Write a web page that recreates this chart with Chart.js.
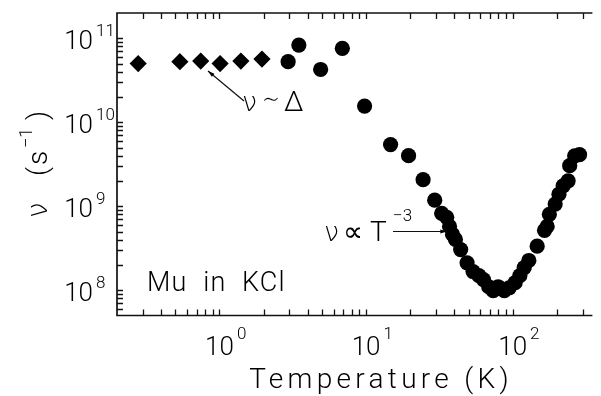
<!DOCTYPE html>
<html>
<head>
<meta charset="utf-8">
<script src="https://cdn.jsdelivr.net/npm/chart.js@4"></script>
<style>
  html, body { margin: 0; padding: 0; background: #fff; overflow: hidden; }
</style>
</head>
<body>
<canvas id="muChart" width="601" height="396"></canvas>
<script>
// low temperature points (diamonds)
const diamondT = [0.279, 0.537, 0.745, 1.01, 1.40, 1.95];
const diamondNu = [5.0e10, 5.26e10, 5.35e10, 5.0e10, 5.35e10, 5.65e10];

// higher temperature points (circles)
const circleT = [2.94, 3.48, 4.90, 6.89, 9.77, 14.7, 19.5, 24.5, 29.4, 32.8,
    35.5, 37.1, 38.9, 40.7, 44.2, 48.9, 53.7, 58.9, 63.2, 68.6,
    73.7, 79.6, 87.7, 94.7, 104, 112, 120, 129, 147, 165,
    172, 178, 195, 207, 221, 239, 245, 265, 286];
const circleNu = [5.26e10, 8.3e10, 4.25e10, 7.59e10, 1.56e10, 5.42e9, 4.0e9, 2.07e9, 1.18e9, 8.24e8,
    7.38e8, 5.75e8, 4.62e8, 4.03e8, 3.05e8, 2.12e8, 1.67e8, 1.49e8, 1.34e8, 1.10e8,
    9.86e7, 1.10e8, 9.86e7, 1.07e8, 1.23e8, 1.49e8, 1.86e8, 2.26e8, 3.35e8, 5.16e8,
    5.75e8, 8.02e8, 1.06e9, 1.39e9, 1.75e9, 2.01e9, 3.04e9, 3.97e9, 4.11e9];

// axis ranges and ticks
const xRange = [0.2, 350];
const yRange = [5e7, 2e11];
const xTicks = [0.3, 0.4, 0.5, 0.6, 0.7, 0.8, 0.9, 1, 2, 3, 4, 5, 6, 7, 8, 9,
    10, 20, 30, 40, 50, 60, 70, 80, 90, 100, 200, 300];
const yTicks = [6e7, 7e7, 8e7, 9e7, 1e8, 2e8, 3e8, 4e8, 5e8, 6e8, 7e8, 8e8, 9e8,
    1e9, 2e9, 3e9, 4e9, 5e9, 6e9, 7e9, 8e9, 9e9,
    1e10, 2e10, 3e10, 4e10, 5e10, 6e10, 7e10, 8e10, 9e10, 1e11];
const xLabelExps = [0, 1, 2];
const yLabelExps = [8, 9, 10, 11];

const FONT = "Roboto, 'DejaVu Sans', sans-serif";
const GREEK = "'DejaVu Sans', sans-serif";

function font(size, family) {
    return "300 " + size + "px " + (family || FONT);
}

function arrow(ctx, x1, y1, x2, y2) {
    const ang = Math.atan2(y2 - y1, x2 - x1);
    ctx.beginPath();
    ctx.moveTo(x1, y1);
    ctx.lineTo(x2, y2);
    ctx.stroke();
    ctx.beginPath();
    ctx.moveTo(x2, y2);
    ctx.lineTo(x2 - 7 * Math.cos(ang - 0.3), y2 - 7 * Math.sin(ang - 0.3));
    ctx.lineTo(x2 - 7 * Math.cos(ang + 0.3), y2 - 7 * Math.sin(ang + 0.3));
    ctx.closePath();
    ctx.fill();
}

const frame = {
    id: "frame",
    afterDraw(chart) {
        const ctx = chart.ctx;
        const a = chart.chartArea;
        const x = chart.scales.x;
        const y = chart.scales.y;
        ctx.save();
        ctx.strokeStyle = "#111";
        ctx.fillStyle = "#000";

        // box (no right side, it is off the picture)
        ctx.lineWidth = 1.7;
        ctx.beginPath();
        ctx.moveTo(a.right, a.top);
        ctx.lineTo(a.left, a.top);
        ctx.lineTo(a.left, a.bottom);
        ctx.lineTo(a.right, a.bottom);
        ctx.stroke();

        // inward ticks
        ctx.lineWidth = 1.3;
        ctx.beginPath();
        xTicks.forEach(v => {
            const px = Math.round(x.getPixelForValue(v)) + 0.5;
            ctx.moveTo(px, a.bottom);
            ctx.lineTo(px, a.bottom - 6);
            ctx.moveTo(px, a.top);
            ctx.lineTo(px, a.top + 6);
        });
        yTicks.forEach(v => {
            const py = Math.round(y.getPixelForValue(v)) + 0.5;
            ctx.moveTo(a.left, py);
            ctx.lineTo(a.left + 6, py);
        });
        ctx.stroke();

        // tick labels 10^n
        ctx.textBaseline = "alphabetic";
        xLabelExps.forEach(e => {
            const px = x.getPixelForValue(Math.pow(10, e));
            ctx.font = font(26);
            ctx.textAlign = "center";
            ctx.fillText("10", px, 355);
            const w = ctx.measureText("10").width;
            ctx.font = font(17);
            ctx.textAlign = "left";
            ctx.fillText(String(e), px + w / 2 + 3, 339);
        });
        yLabelExps.forEach(e => {
            const py = y.getPixelForValue(Math.pow(10, e));
            ctx.font = font(26);
            ctx.textAlign = "right";
            ctx.fillText("10", 93, py + 11);
            ctx.font = font(17);
            ctx.textAlign = "left";
            ctx.fillText(String(e), 96, py - 2);
        });

        // axis titles
        ctx.font = font(28);
        ctx.textAlign = "center";
        ctx.letterSpacing = "4.3px";
        ctx.fillText("Temperature (K)", 381, 388);
        ctx.letterSpacing = "0px";

        ctx.save();
        ctx.translate(47, 218);
        ctx.rotate(-Math.PI / 2);
        ctx.textAlign = "left";
        ctx.font = font(28, GREEK);
        ctx.fillText("\u03bd", 0, 0);
        ctx.font = font(28);
        ctx.fillText("(", 42, 0);
        ctx.fillText("s", 53, 0);
        ctx.fillText(")", 98, 0);
        ctx.font = font(18);
        ctx.fillText("\u22121", 70, -15);
        ctx.restore();

        // annotations
        ctx.textAlign = "left";
        ctx.font = font(27);
        ctx.letterSpacing = "1.2px";
        ctx.fillText("Mu  in  KCl", 147, 291);
        ctx.letterSpacing = "0px";

        ctx.font = font(27, GREEK);
        ctx.fillText("\u03bd", 242, 111);
        ctx.fillText("\u03bd", 324, 241);
        ctx.font = font(28);
        ctx.fillText("\u223c", 262, 109);
        ctx.fillText("\u0394", 284, 111);
        ctx.fillText("\u221d", 343, 241);
        ctx.fillText("T", 370, 241);
        ctx.font = font(17);
        ctx.fillText("\u22123", 393, 221);

        ctx.lineWidth = 1.2;
        arrow(ctx, 244, 101, 208, 71);
        arrow(ctx, 393, 231.5, 447, 231.5);

        ctx.restore();
    }
};

const scatterData = {
    datasets: [{
            label: "diamonds",
            data: diamondT.map((t, i) => ({x: t, y: diamondNu[i]})),
            pointStyle: "rectRot",
            pointRadius: 8.6,
            backgroundColor: "#000",
            borderColor: "#000",
            borderWidth: 0,
        }, {
            label: "circles",
            data: circleT.map((t, i) => ({x: t, y: circleNu[i]})),
            pointStyle: "circle",
            pointRadius: 7.6,
            backgroundColor: "#000",
            borderColor: "#000",
            borderWidth: 0,
        }
    ],
};

const scatterConfig = {
    type: "scatter",
    data: scatterData,
    options: {
        responsive: false,
        animation: false,
        events: [],
        layout: {padding: {left: 117, top: 13, right: 0, bottom: 80.5}},
        plugins: {legend: {display: false}, tooltip: {enabled: false}},
        scales: {
            x: {type: "logarithmic", min: xRange[0], max: xRange[1], display: false},
            y: {type: "logarithmic", min: yRange[0], max: yRange[1], display: false},
        },
    },
    plugins: [frame],
};

const muChart = new Chart(document.getElementById("muChart"), scatterConfig);
</script>
</body>
</html>
